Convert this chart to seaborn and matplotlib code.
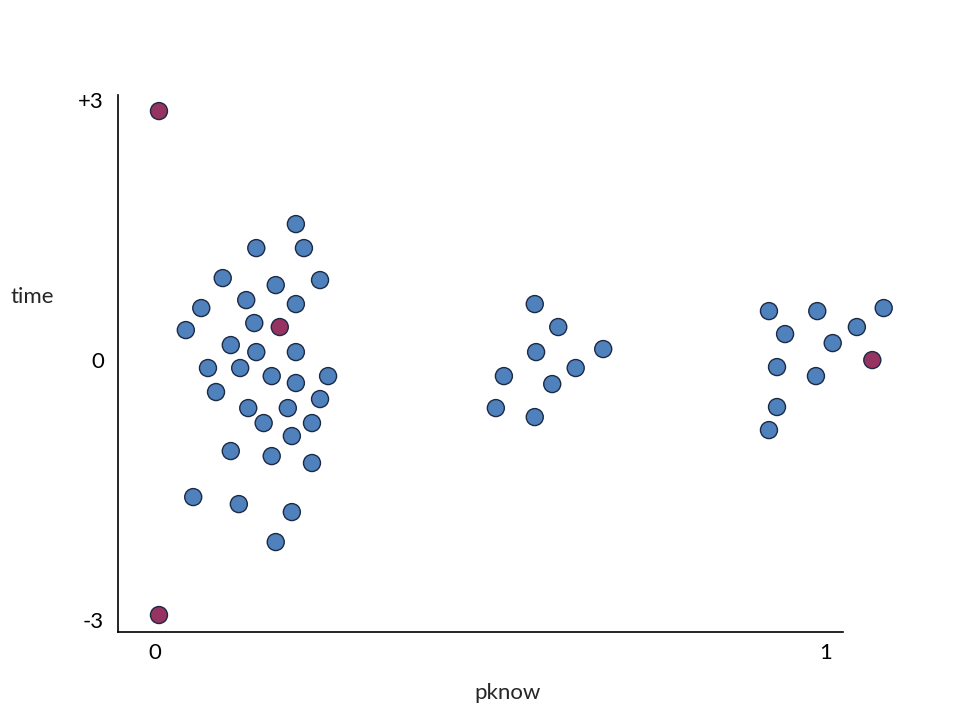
import numpy as np
import pandas as pd
import matplotlib
matplotlib.use("Agg")
import matplotlib.pyplot as plt
import seaborn as sns

# pknow / time values
blue_pknow = [0.210, 0.151, 0.222, 0.101, 0.180, 0.246, 0.136, 0.210, 0.069, 0.148,
              0.046, 0.113, 0.151, 0.210, 0.079, 0.127, 0.174, 0.210, 0.258, 0.091,
              0.246, 0.139, 0.198, 0.162, 0.234, 0.204, 0.113, 0.174, 0.234, 0.057,
              0.125, 0.204, 0.180,
              0.566, 0.601, 0.568, 0.668, 0.627, 0.520, 0.592, 0.508, 0.566,
              0.915, 0.987, 1.086, 0.939, 1.046, 1.010, 0.927, 0.985, 0.927, 0.915]
blue_time = [1.569, 1.292, 1.292, 0.946, 0.865, 0.923, 0.692, 0.646, 0.600, 0.427,
             0.346, 0.173, 0.092, 0.092, -0.092, -0.092, -0.185, -0.265, -0.185, -0.369,
             -0.450, -0.554, -0.554, -0.727, -0.727, -0.877, -1.050, -1.108, -1.188, -1.581,
             -1.662, -1.754, -2.100,
             0.646, 0.381, 0.092, 0.127, -0.092, -0.185, -0.277, -0.554, -0.658,
             0.565, 0.565, 0.600, 0.300, 0.381, 0.196, -0.081, -0.185, -0.542, -0.808]
red_pknow = [0.006, 0.006, 0.186, 1.069]
red_time = [2.873, -2.942, 0.381, 0.0]

df = pd.DataFrame({
    "pknow": blue_pknow + red_pknow,
    "time": blue_time + red_time,
    "grp": ["b"] * len(blue_pknow) + ["r"] * len(red_pknow),
})

sns.set_style("white")
plt.rcParams["font.family"] = ["Lato", "DejaVu Sans"]

fig = plt.figure(figsize=(9.6, 7.2), dpi=100)
ax = fig.add_axes([0.1229, 0.1222, 0.7552, 0.7458])

sns.scatterplot(data=df, x="pknow", y="time", hue="grp",
                palette={"b": "#4f81bd", "r": "#963360"},
                s=150, edgecolor="#1c2a45", linewidth=1.0,
                legend=False, clip_on=False, zorder=3, ax=ax)

ax.set_xlim(-0.0551, 1.0253)
ax.set_ylim(-3.138, 3.058)
ax.set_xticks([0, 1])
ax.set_xticklabels(["0", "1"])
ax.set_yticks([3, 0, -3])
ax.set_yticklabels(["+3", "0", "-3"])
ax.tick_params(length=0, labelsize=16, colors="black")
ax.tick_params(axis="y", pad=10)
ax.tick_params(axis="x", pad=8)
ax.set_xlabel("")
ax.set_ylabel("")
for side in ["top", "right"]:
    ax.spines[side].set_visible(False)
for side in ["left", "bottom"]:
    ax.spines[side].set_color("black")
    ax.spines[side].set_linewidth(1.2)

fig.text(32 / 960, 1 - 297 / 720, "time", ha="center", va="center", fontsize=16)
fig.text(508 / 960, 1 - 693 / 720, "pknow", ha="center", va="center", fontsize=16)

fig.savefig("out.png", dpi=100)
